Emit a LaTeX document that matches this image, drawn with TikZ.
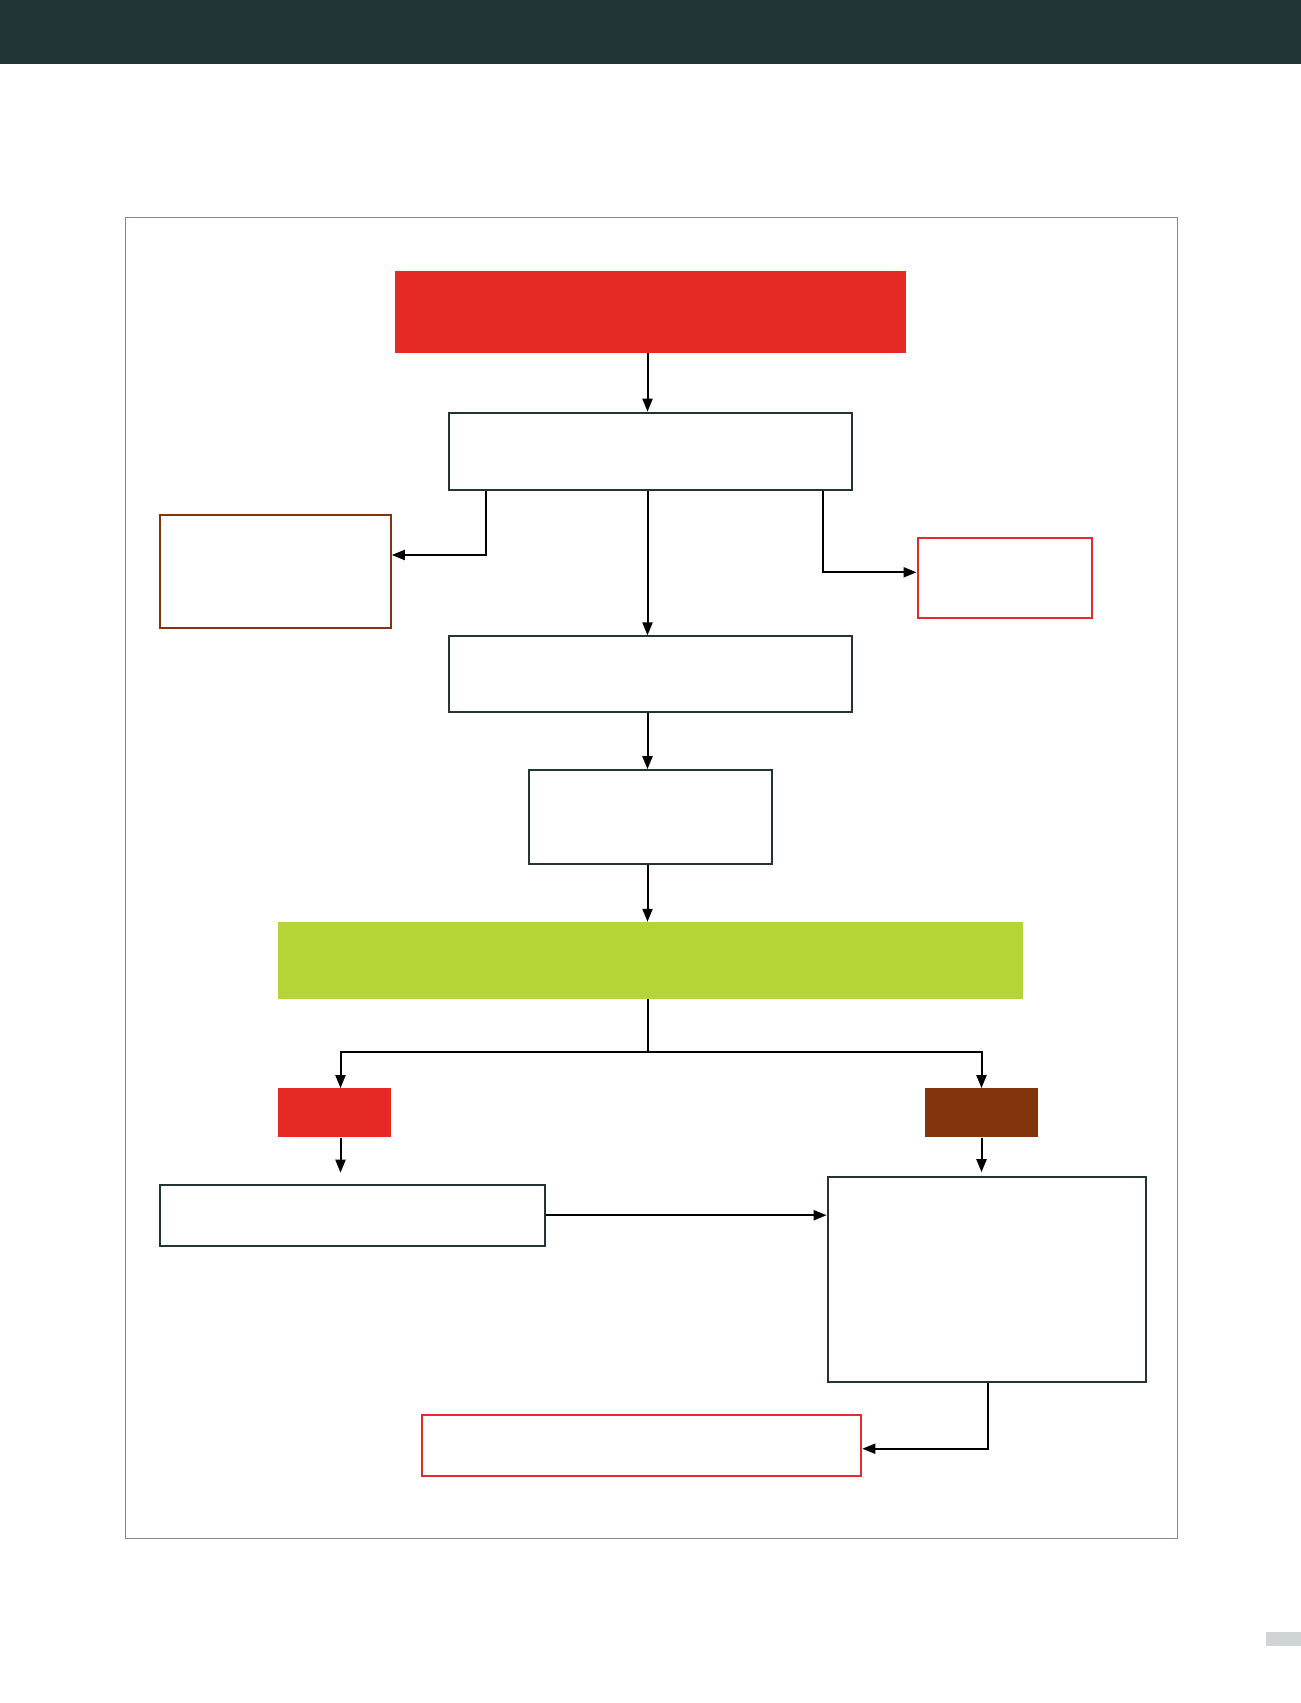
\documentclass[tikz,border=0pt]{standalone}
\usetikzlibrary{arrows.meta,calc}
\definecolor{hdr}{HTML}{233436}
\definecolor{bred}{HTML}{E52A25}
\definecolor{bgreen}{HTML}{B5D435}
\definecolor{bbrown}{HTML}{82340D}
\definecolor{ored}{HTML}{E8282B}
\definecolor{frm}{HTML}{7F8C8C}
\definecolor{lgray}{HTML}{D1D4D5}
\tikzset{
  box/.style={draw=hdr, line width=2bp, fill=white, inner sep=0pt, rectangle},
  fillbox/.style={draw=none, fill=#1, inner sep=0pt, rectangle},
  conn/.style={line width=2bp, -{Triangle[length=13bp,width=10bp]}},
}
\begin{document}
\begin{tikzpicture}[x=1bp,y=-1bp]
\useasboundingbox (0,0) rectangle (1301,1703);
\fill[white] (0,0) rectangle (1301,1703);
% header bar
\fill[hdr] (0,0) rectangle (1301,64);
% frame
\draw[frm, line width=1bp] (125,217) rectangle (1177,1538);
% page tab
\fill[lgray] (1266,1632) rectangle (1301,1646);

\coordinate (xm) at (647.5,0);
\coordinate (xl) at (485.5,0);
\coordinate (xr) at (823,0);
\coordinate (sl) at (340.5,0);
\coordinate (sr) at (981.5,0);
\coordinate (xe) at (988,0);

\node[fillbox=bred, minimum width=511bp, minimum height=82bp] (top) at (650.8,312.2) {};
\node[box, minimum width=403bp, minimum height=77bp] (a) at (650.8,451.2) {};
\node[box, draw=bbrown, minimum width=231bp, minimum height=113bp] (lb) at (275.3,571.2) {};
\node[box, draw=ored, minimum width=174bp, minimum height=80bp] (rr) at (1004.5,577.8) {};
\node[box, minimum width=403bp, minimum height=76bp] (b) at (650.8,674.4) {};
\node[box, minimum width=243bp, minimum height=94bp] (c) at (650.5,817.2) {};
\node[fillbox=bgreen, minimum width=745bp, minimum height=77bp] (g) at (650.5,960.5) {};
\node[fillbox=bred, minimum width=113bp, minimum height=49bp] (rs) at (334.8,1112.8) {};
\node[fillbox=bbrown, minimum width=113bp, minimum height=49bp] (bs) at (981.6,1112.8) {};
\node[box, minimum width=385bp, minimum height=61bp] (d) at (352.3,1215.2) {};
\node[box, minimum width=318bp, minimum height=205bp] (e) at (986.6,1279.7) {};
\node[box, draw=ored, minimum width=439bp, minimum height=61bp] (f) at (641.8,1445.4) {};

% connectors
\draw[conn] (top.south -| xm) -- (a.north -| xm);
\draw[conn] (a.south -| xl) |- (lb.east |- 0,555);
\draw[conn] (a.south -| xm) -- (b.north -| xm);
\draw[conn] (a.south -| xr) |- (rr.west |- 0,572.3);
\draw[conn] (b.south -| xm) -- (c.north -| xm);
\draw[conn] (c.south -| xm) -- (g.north -| xm);
\draw[line width=2bp] (g.south -| xm) -- (xm |- 0,1052);
\draw[conn] (xm |- 0,1052) -| (rs.north -| sl);
\draw[conn] (xm |- 0,1052) -| (bs.north -| sr);
\draw[conn, shorten >=11bp] (rs.south -| sl) -- (d.north -| sl);
\draw[conn, shorten >=4bp] (bs.south -| sr) -- (e.north -| sr);
\draw[conn] (d.east) -- (e.west |- d.east);
\draw[conn] (e.south -| xe) |- (f.east |- 0,1448.7);
\end{tikzpicture}
\end{document}
